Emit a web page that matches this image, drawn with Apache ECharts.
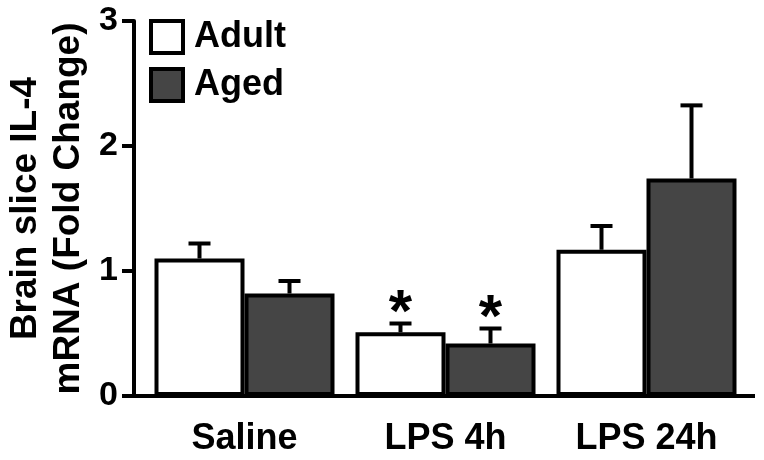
<!DOCTYPE html>
<html><head><meta charset="utf-8">
<script src="https://cdn.jsdelivr.net/npm/echarts@6/dist/echarts.min.js"></script>
<style>html,body{margin:0;padding:0;background:#fff}#c{width:764px;height:460px}</style>
</head><body><div id="c"></div>
<script>
const categories = ['Saline', 'LPS 4h', 'LPS 24h'];
const seriesNames = ['Adult', 'Aged'];
const adultMean = [1.10, 0.51, 1.17];
const adultSem = [0.12, 0.07, 0.19];
const agedMean = [0.82, 0.42, 1.74];
const agedSem = [0.10, 0.12, 0.585];
const adultSig = [0, 1, 0];
const agedSig = [0, 1, 0];
const yTicks = [0, 1, 2, 3];
const yTitle = 'Brain slice IL-4\nmRNA (Fold Change)';

const FONT = '"Liberation Sans", Arial, sans-serif';
const BAR_W = 90;
const AGED_FILL = '#454545';

const chart = echarts.init(document.getElementById('c'), null, {renderer: 'canvas'});

function errSeries(name, means, sems, sigs, dx) {
  return {
    type: 'custom', name: name + ' SEM', silent: true, z: 5,
    data: means.map((m, i) => [i, m, m + sems[i], sigs[i]]),
    encode: {x: 0, y: [1, 2]},
    renderItem(params, api) {
      const i = api.value(0);
      const base = api.coord([i, api.value(1)]);
      const top = api.coord([i, api.value(2)]);
      const x = base[0] + dx;
      const children = [
        {type: 'line', shape: {x1: x, y1: base[1], x2: x, y2: top[1]}, style: {stroke: '#000', lineWidth: 4}},
        {type: 'line', shape: {x1: x - 11, y1: top[1], x2: x + 11, y2: top[1]}, style: {stroke: '#000', lineWidth: 4}}
      ];
      if (api.value(3)) {
        children.push({type: 'text', style: {text: '*', x: x, y: top[1] - 9, align: 'center', verticalAlign: 'middle',
          font: 'bold 60px ' + FONT, fill: '#000'}});
      }
      return {type: 'group', children};
    }
  };
}

const option = {
  animation: false,
  backgroundColor: '#fff',
  grid: {left: 144, right: 17, top: 21, bottom: 64, containLabel: false, outerBoundsMode: 'none'},
  legend: {
    data: seriesNames, orient: 'vertical', left: 149, top: 19, padding: 0,
    icon: 'rect', itemWidth: 32, itemHeight: 32, itemGap: 12,
    itemStyle: {borderWidth: 4, borderColor: '#000'},
    textStyle: {fontFamily: FONT, fontWeight: 'bold', fontSize: 36, color: '#000', lineHeight: 32, padding: [0, 0, 0, 6]},
    selectedMode: false
  },
  xAxis: {
    type: 'category', data: categories,
    axisLine: {show: false}, axisTick: {show: false},
    axisLabel: {fontFamily: FONT, fontWeight: 'bold', fontSize: 36, color: '#000', margin: 25},
    splitLine: {show: false}
  },
  yAxis: {
    type: 'value', min: 0, max: 3, interval: 1, offset: 10,
    name: yTitle, nameLocation: 'middle', nameGap: 44, nameMoveOverlap: false,
    nameTextStyle: {fontFamily: FONT, fontWeight: 'bold', fontSize: 37, color: '#000', lineHeight: 43, align: 'center'},
    axisLine: {show: true, lineStyle: {color: '#000', width: 4}},
    axisTick: {show: true, length: 12, lineStyle: {color: '#000', width: 4}},
    axisLabel: {fontFamily: FONT, fontWeight: 'bold', fontSize: 34, color: '#000', margin: 16,
      formatter: v => yTicks.includes(v) ? String(v) : ''},
    splitLine: {show: false}
  },
  series: [
    {type: 'bar', name: seriesNames[0], data: adultMean, barWidth: BAR_W, barGap: '0%',
      itemStyle: {color: '#fff', borderColor: '#000', borderWidth: 4}},
    {type: 'bar', name: seriesNames[1], data: agedMean, barWidth: BAR_W, barGap: '0%',
      itemStyle: {color: AGED_FILL, borderColor: '#000', borderWidth: 4}},
    errSeries('Adult', adultMean, adultSem, adultSig, -BAR_W / 2),
    errSeries('Aged', agedMean, agedSem, agedSig, BAR_W / 2)
  ]
};
chart.setOption(option);

// baseline (x axis line), extending slightly past the plot on both sides
const y0 = chart.convertToPixel({yAxisIndex: 0}, 0);
chart.setOption({graphic: [{type: 'line', z: 10, shape: {x1: 122, y1: y0, x2: 755, y2: y0}, style: {stroke: '#000', lineWidth: 4}}]});
</script>
</body></html>
